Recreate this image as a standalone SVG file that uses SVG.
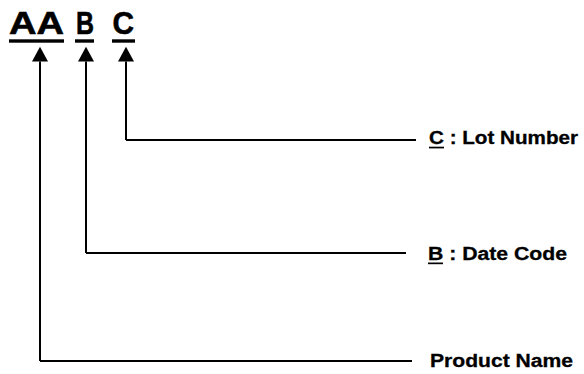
<svg xmlns="http://www.w3.org/2000/svg" width="584" height="374" viewBox="0 0 584 374">
<style>
.big{font-family:"Liberation Sans",Arial,sans-serif;font-weight:bold;font-size:32px;fill:#000;stroke:#000;stroke-width:0.6}
.lbl{font-family:"Liberation Sans",Arial,sans-serif;font-weight:bold;font-size:18px;fill:#000;stroke:#000;stroke-width:0.3}
.conn{fill:none;stroke:#000;stroke-width:2}
</style>
<rect width="584" height="374" fill="#fff"/>
<g id="code-AA">
<text class="big" x="9" y="34" textLength="55" lengthAdjust="spacingAndGlyphs">AA</text>
<rect x="9" y="39.3" width="55" height="3.4" fill="#000"/>
</g>
<g id="code-B">
<text class="big" x="76" y="34" textLength="18" lengthAdjust="spacingAndGlyphs">B</text>
<rect x="75" y="39.3" width="19" height="3.4" fill="#000"/>
</g>
<g id="code-C">
<text class="big" x="112.5" y="34" textLength="21.5" lengthAdjust="spacingAndGlyphs">C</text>
<rect x="112" y="39.3" width="23" height="3.4" fill="#000"/>
</g>
<g id="connectors">
<path class="conn" d="M126,140 V61.5 M126,140 H416" />
<path d="M126,46.7 L134,61.5 L118,61.5 Z" fill="#000"/>
<path class="conn" d="M86,253 V61.5 M86,253 H406" />
<path d="M86,46.7 L94,61.5 L78,61.5 Z" fill="#000"/>
<path class="conn" d="M40,361 V61.5 M40,361 H412" />
<path d="M40,46.7 L48,61.5 L32,61.5 Z" fill="#000"/>
</g>
<g id="label-lot">
<text class="lbl" x="429" y="144" textLength="149" lengthAdjust="spacingAndGlyphs">C : Lot Number</text>
<rect x="429" y="146.7" width="15" height="1.7" fill="#000"/>
</g>
<g id="label-date">
<text class="lbl" x="428" y="260" textLength="139" lengthAdjust="spacingAndGlyphs">B : Date Code</text>
<rect x="428" y="262.5" width="15" height="1.7" fill="#000"/>
</g>
<g id="label-product">
<text class="lbl" x="430" y="367" textLength="143" lengthAdjust="spacingAndGlyphs">Product Name</text>
</g>
</svg>
